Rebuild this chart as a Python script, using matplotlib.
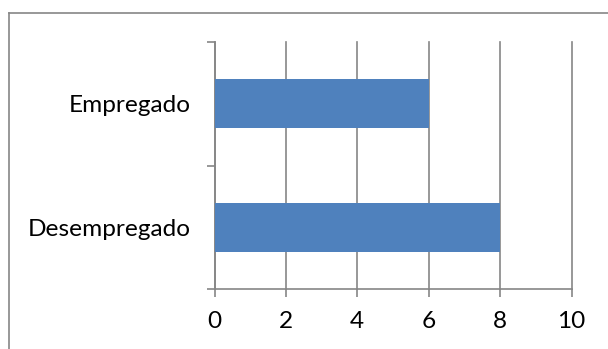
import matplotlib
matplotlib.use("Agg")
import matplotlib.pyplot as plt
from matplotlib.lines import Line2D

categories = ["Desempregado", "Empregado"]
values = [8, 6]
xticks = [0, 2, 4, 6, 8, 10]

plt.rcParams['font.family'] = ['Lato', 'DejaVu Sans']

W, H = 608, 349
fig = plt.figure(figsize=(W/100, H/100), dpi=100)
fig.patch.set_facecolor('white')

# outer chart border (top and left only visible)
fig.add_artist(Line2D([8.5/W, 8.5/W], [0, 1-12.5/H], transform=fig.transFigure, color='#868686', lw=1.2))
fig.add_artist(Line2D([8.5/W, 1], [1-12.5/H, 1-12.5/H], transform=fig.transFigure, color='#868686', lw=1.2))

left, right = 214.5/W, 571.5/W
bottom, top = 1-289/H, 1-42/H
ax = fig.add_axes([left, bottom, right-left, top-bottom])

grid = '#868686'
fs = 17.6
ax.barh(range(len(categories)), values, height=0.4, color='#4F81BD', zorder=3)
ax.set_xlim(0, 10)
ax.set_ylim(-0.5, len(categories)-0.5)
ax.set_xticks(xticks)
ax.set_xticklabels([str(t) for t in xticks])
ax.set_yticks([i - 0.5 for i in range(len(categories)+1)], minor=False)
ax.set_yticklabels([])
ax.set_yticks(range(len(categories)), minor=True)
ax.set_yticklabels(categories, minor=True)
ax.tick_params(axis='y', which='minor', length=0, pad=17, labelsize=fs, labelcolor='black')
ax.tick_params(axis='y', which='major', length=6, width=1.2, color=grid, direction='out')
ax.tick_params(axis='x', length=6, width=1.2, color=grid, direction='out', pad=10, labelsize=fs)
ax.xaxis.grid(True, color=grid, lw=1.2, zorder=0)
for gl in ax.get_xgridlines():
    gl.set_clip_on(False)
for s in ['top', 'right']:
    ax.spines[s].set_visible(False)
for s in ['left', 'bottom']:
    ax.spines[s].set_color(grid)
    ax.spines[s].set_linewidth(1.2)
ax.set_axisbelow(True)

fig.savefig('out.png', dpi=100, facecolor='white')
